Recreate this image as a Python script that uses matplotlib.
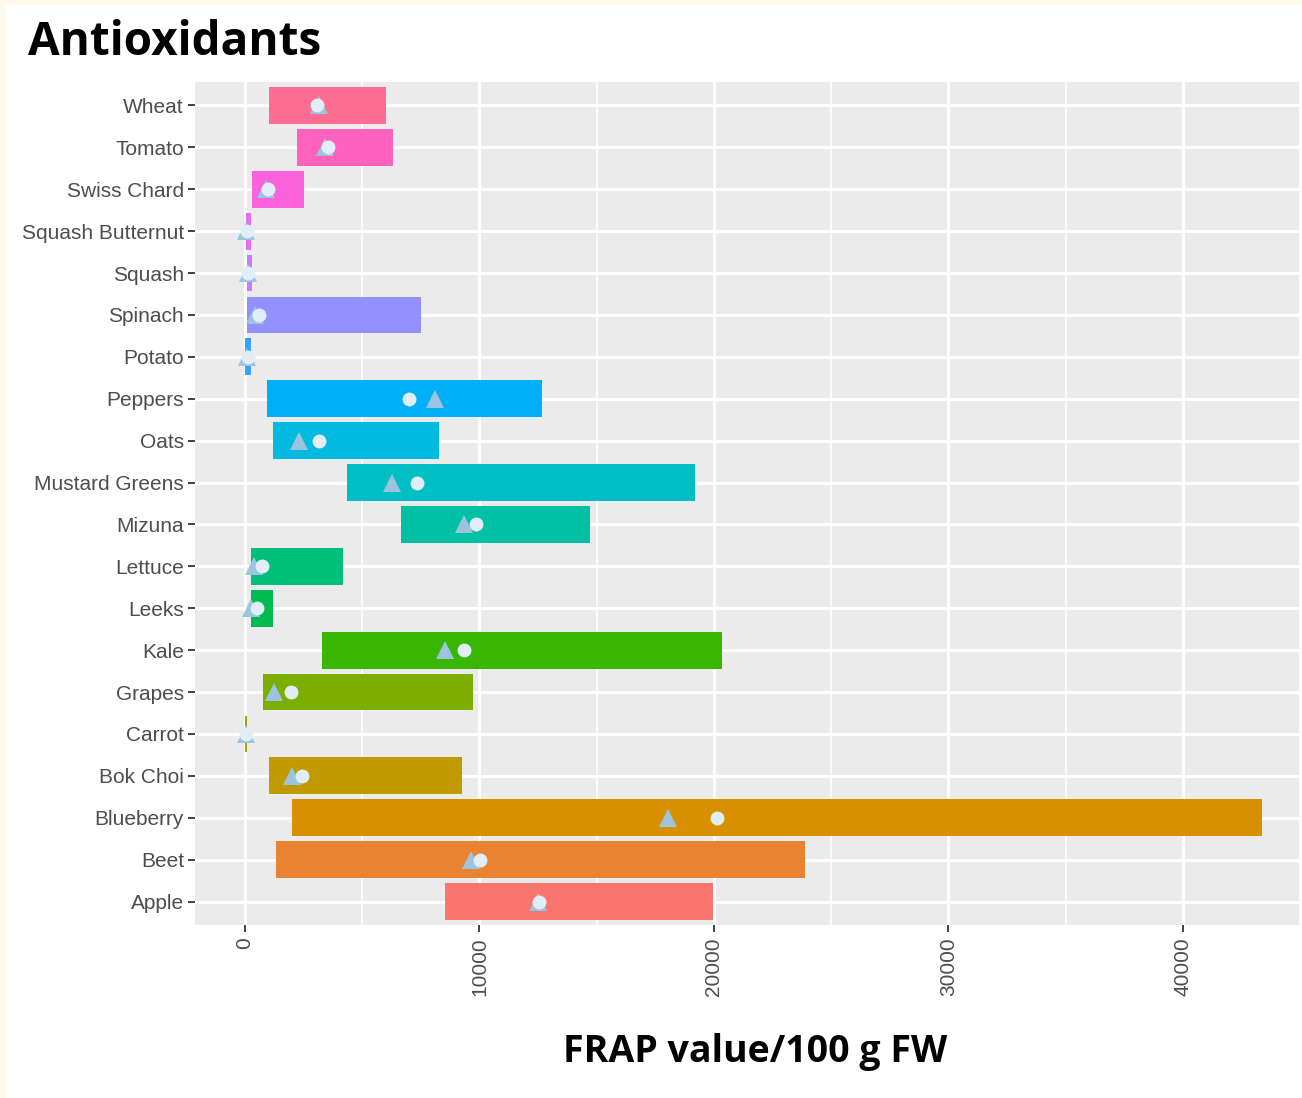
import matplotlib
matplotlib.use("Agg")
import matplotlib.pyplot as plt
from matplotlib.patches import Rectangle
import numpy as np

# categories bottom -> top (ggplot discrete order)
foods = ["Apple", "Beet", "Blueberry", "Bok Choi", "Carrot", "Grapes", "Kale",
         "Leeks", "Lettuce", "Mizuna", "Mustard Greens", "Oats", "Peppers",
         "Potato", "Spinach", "Squash", "Squash Butternut", "Swiss Chard",
         "Tomato", "Wheat"]
frap_min = [8540, 1306, 2021, 1034, 0, 762, 3298, 243, 255, 6655, 4345, 1217,
            957, 20, 85, 85, 60, 320, 2204, 1034]
frap_max = [19953, 23872, 43387, 9238, 100, 9727, 20349, 1217, 4166, 14698,
            19179, 8268, 12660, 272, 7490, 300, 272, 2523, 6294, 6034]
frap_median = [12506, 9660, 18055, 1991, 30, 1247, 8553, 272, 396, 9362, 6260,
               2298, 8115, 85, 425, 130, 60, 894, 3404, 3150]
frap_mean = [12553, 10017, 20153, 2447, 60, 1945, 9332, 502, 728, 9864, 7324,
             3162, 7004, 110, 621, 150, 90, 1003, 3557, 3085]
colors = ["#F8766D", "#EA8331", "#D89000", "#C09B00", "#A3A500", "#7CAE00",
          "#39B600", "#00BB4E", "#00BF7D", "#00C1A3", "#00BFC4", "#00BAE0",
          "#00B0F6", "#35A2FF", "#9590FF", "#C77CFF", "#E76BF3", "#FA62DB",
          "#FF62BC", "#FF6C91"]
xticks = [0, 10000, 20000, 30000, 40000]

W, H = 1302, 1098
fig = plt.figure(figsize=(W / 100, H / 100), dpi=100, facecolor="#FFF8EC")
# white page with thin cream border at top/left
fig.patches.append(Rectangle((5 / W, 0), 1, 1 - 5 / H, transform=fig.transFigure,
                             facecolor="white", edgecolor="none", zorder=-1))

ax = fig.add_axes([195 / W, 1 - 925 / H, 1105 / W, (925 - 82) / H])
ax.set_zorder(1)
ax.set_facecolor("#EBEBEB")
for s in ax.spines.values():
    s.set_visible(False)

y = np.arange(len(foods))
widths = np.array(frap_max) - np.array(frap_min)
ax.barh(y, widths, left=frap_min, height=0.88, color=colors, zorder=3)
ax.plot(frap_median, y, linestyle="none", marker="^", ms=12.5,
        color="#9CC4DF", markeredgewidth=0, zorder=4)
ax.plot(frap_mean, y, linestyle="none", marker="o", ms=10,
        color="#E1EEF8", markeredgewidth=0, zorder=5)

ax.set_xlim(-2130, 44900)
ax.set_ylim(-0.56, len(foods) - 0.44)
ax.set_xticks(xticks)
ax.set_xticks([5000, 15000, 25000, 35000, 45000], minor=True)
ax.set_xticklabels([str(v) for v in xticks], rotation=90)
ax.set_yticks(y)
ax.set_yticklabels(foods)
ax.grid(which="major", color="white", linewidth=2.2, zorder=1)
ax.grid(which="minor", axis="x", color="white", linewidth=1.1, zorder=1)
ax.set_axisbelow(True)
ax.tick_params(axis="both", which="major", color="#333333", length=5, width=1.3,
               labelcolor="#4D4D4D", labelsize=15)
ax.tick_params(axis="x", which="major", pad=4)
ax.tick_params(axis="y", which="major", pad=3)
ax.tick_params(axis="x", which="minor", length=0)
for lab in ax.get_yticklabels() + ax.get_xticklabels():
    lab.set_family("Liberation Sans")

fig.text(28 / W, 1 - 55 / H, "Antioxidants", fontsize=33, fontweight="bold",
         family="Open Sans", ha="left", va="baseline")
fig.text(755 / W, 1 - 1062 / H, "FRAP value/100 g FW", fontsize=27,
         fontweight="bold", family="Open Sans", ha="center", va="baseline")

fig.savefig("out.png", dpi=100, facecolor=fig.get_facecolor())
